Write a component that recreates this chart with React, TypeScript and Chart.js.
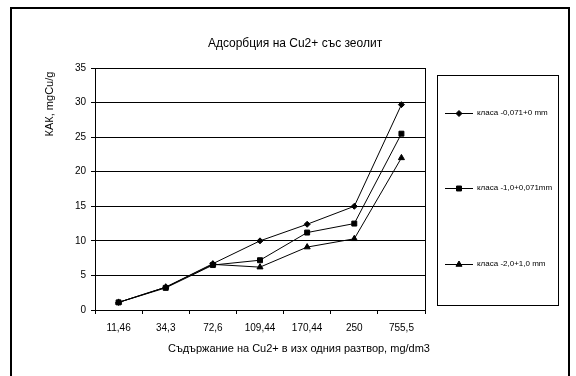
import React, { useEffect, useRef } from "react";
import { Chart, registerables } from "chart.js";
import { drawPoint } from "chart.js/helpers";

Chart.register(...registerables);

const categories = ["11,46", "34,3", "72,6", "109,44", "170,44", "250", "755,5"];
const seriesNames = ["класа -0,071+0 mm", "класа -1,0+0,071mm", "класа -2,0+1,0 mm"];
const series1 = [1.1, 3.3, 6.7, 10.0, 12.4, 15.0, 29.7];
const series2 = [1.1, 3.2, 6.5, 7.2, 11.2, 12.5, 25.5];
const series3 = [1.1, 3.3, 6.6, 6.2, 9.1, 10.3, 22.0];
const yTicks = { min: 0, max: 35, step: 5 };
const chartTitle = "Адсорбция на Cu2+ със зеолит";
const xTitle = "Съдържание на Cu2+ в изх одния разтвор, mg/dm3";
const yTitle = "КАК, mgCu/g";

const FONT = "'Liberation Sans Narrow', 'Arial Narrow', 'Liberation Sans', Arial, sans-serif";

const decorPlugin = {
  id: "decor",
  afterDraw(chart: any) {
    const ctx = chart.ctx;
    const ca = chart.chartArea;
    ctx.save();
    // outer frame
    ctx.strokeStyle = "#000";
    ctx.lineWidth = 2;
    ctx.strokeRect(11, 8, 558, 400);
    // plot area frame
    ctx.lineWidth = 1;
    ctx.strokeRect(Math.round(ca.left) + 0.5, Math.round(ca.top) + 0.5, Math.round(ca.right - ca.left), Math.round(ca.bottom - ca.top));
    // title
    ctx.fillStyle = "#000";
    ctx.textAlign = "center";
    ctx.textBaseline = "middle";
    ctx.font = "12px " + FONT;
    ctx.fillText(chartTitle, 295, 44);
    // x title
    ctx.font = "11px " + FONT;
    ctx.fillText(xTitle, 299, 349);
    // y title
    ctx.save();
    ctx.translate(50, 104);
    ctx.rotate(-Math.PI / 2);
    ctx.fillText(yTitle, 0, 0);
    ctx.restore();
    // legend box
    ctx.strokeRect(437.5, 75.5, 121, 230);
    const ys = [113, 188, 264];
    chart.data.datasets.forEach((ds: any, i: number) => {
      const y = ys[i];
      ctx.strokeStyle = "#000";
      ctx.lineWidth = 1;
      ctx.beginPath();
      ctx.moveTo(445, y + 0.5);
      ctx.lineTo(473, y + 0.5);
      ctx.stroke();
      ctx.fillStyle = "#000";
      drawPoint(ctx, { pointStyle: ds.pointStyle, radius: ds.pointRadius, borderWidth: 1, rotation: 0 }, 459, y + 0.5);
      ctx.fillStyle = "#000";
      ctx.textAlign = "left";
      ctx.font = "8px " + FONT;
      ctx.fillText(ds.label, 477, y);
    });
    ctx.restore();
  },
};

export default function App() {
  const ref = useRef<HTMLCanvasElement>(null);
  useEffect(() => {
    const mk = (label: string, data: number[], style: string, r: number) => ({
      label,
      data,
      borderColor: "#000",
      backgroundColor: "#000",
      borderWidth: 1,
      pointStyle: style,
      pointRadius: r,
      pointBackgroundColor: "#000",
      pointBorderColor: "#000",
      pointBorderWidth: 1,
      tension: 0,
    });
    const chart = new Chart(ref.current!, {
      type: "line",
      data: {
        labels: categories,
        datasets: [
          mk(seriesNames[0], series1, "rectRot", 3),
          mk(seriesNames[1], series2, "rect", 3.5),
          mk(seriesNames[2], series3, "triangle", 3.5),
        ],
      },
      plugins: [decorPlugin],
      options: {
        animation: false,
        responsive: false,
        devicePixelRatio: 1,
        layout: { padding: { left: 0, top: 68, right: 151, bottom: 0 } },
        plugins: { legend: { display: false }, title: { display: false }, tooltip: { enabled: false } },
        scales: {
          x: {
            offset: true,
            grid: { display: true, drawOnChartArea: false, drawTicks: true, tickLength: 4, color: "#000", offset: true },
            border: { display: true, color: "#000", width: 1 },
            ticks: { color: "#000", font: { size: 10, family: FONT }, padding: 8, maxRotation: 0, autoSkip: false },
            afterFit: (s: any) => { s.height = 66; },
          },
          y: {
            min: yTicks.min,
            max: yTicks.max,
            grid: { color: "#000", lineWidth: 1, tickLength: 4, drawTicks: true },
            border: { display: true, color: "#000", width: 1 },
            ticks: { stepSize: yTicks.step, color: "#000", font: { size: 10, family: FONT }, padding: 5 },
            afterFit: (s: any) => { s.width = 95; },
          },
        },
      },
    } as any);
    return () => chart.destroy();
  }, []);
  return (
    <div style={{ position: "fixed", left: 0, top: 0, width: 576, height: 376, background: "#fff" }}>
      <canvas ref={ref} width={576} height={376} style={{ width: 576, height: 376 }} />
    </div>
  );
}
